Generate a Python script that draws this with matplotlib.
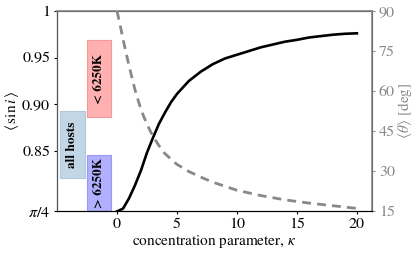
import matplotlib
matplotlib.use("Agg")
import matplotlib.pyplot as plt
import numpy as np

plt.rcParams['font.family'] = ['STIXGeneral', 'DejaVu Serif']
plt.rcParams['mathtext.fontset'] = 'stix'

# <sin i> vs kappa (black solid)
kappa_sin = [0, 0.5, 1.0, 1.5, 2.0, 2.5, 3.0, 3.5, 4.0, 4.5, 5.0, 6.0, 7.0, 8.0,
             9.0, 10.0, 11.0, 12.0, 13.0, 14.0, 15.0, 16.0, 17.0, 18.0, 19.0, 20.0]
sin_vals = [0.785, 0.788, 0.799, 0.813, 0.829, 0.848, 0.864, 0.879, 0.891, 0.902,
            0.911, 0.925, 0.935, 0.943, 0.949, 0.953, 0.957, 0.961, 0.964, 0.967,
            0.969, 0.9715, 0.973, 0.9745, 0.9755, 0.976]

# <theta> vs kappa (grey dashed), degrees
kappa_theta = [0, 0.25, 0.5, 0.75, 1.0, 1.5, 2.0, 2.5, 3.0, 3.5, 4.0, 5.0, 6.0,
               7.0, 8.0, 9.0, 10.0, 12.0, 14.0, 16.0, 18.0, 20.0]
theta_vals = [90, 85, 79.5, 74.5, 69.5, 60.5, 53, 47.5, 43, 39.5, 36.5, 32.5,
              29.8, 27.7, 25.8, 24.3, 22.8, 20.8, 19.2, 18.0, 17.0, 16.0]

# Observed ranges of <sin i> (boxes)
box_labels = ['all hosts', '< 6250K', '> 6250K']
box_x = [(-4.78, -2.70), (-2.49, -0.48), (-2.49, -0.48)]
box_y = [(0.821, 0.8926), (0.886, 0.969), (0.785, 0.8457)]
box_colors = ['#c3d6e6', '#ffb0b0', '#b0b0ff']
box_edges = ['#b0c8dc', '#f59a9a', '#9a9af0']

fig = plt.figure(figsize=(4.16, 2.54), dpi=100)
ax = fig.add_axes([0.137, 0.169, 0.757, 0.788])
ax2 = ax.twinx()

for lab, (x0, x1), (y0, y1), fc, ec in zip(box_labels, box_x, box_y, box_colors, box_edges):
    ax.fill_between([x0, x1], [y0, y0], [y1, y1], facecolor=fc, edgecolor=ec, lw=0.8, zorder=1)
    ax.text((x0 + x1) / 2, (y0 + y1) / 2, lab, rotation=90, ha='center', va='center',
            fontsize=9.5, fontweight='bold', zorder=3)

ax.plot(kappa_sin, sin_vals, color='black', lw=1.9, zorder=4)
ax2.plot(kappa_theta, theta_vals, color='#888888', lw=2.0, ls=(0, (3.2, 2.2)), zorder=4)

ax.set_xlim(-5, 21.25)
ax.set_ylim(np.pi / 4, 1.0)
ax.set_yticks([np.pi / 4, 0.85, 0.90, 0.95, 1.0])
ax.set_yticklabels([r'$\pi/4$', '0.85', '0.90', '0.95', '1'])
ax.set_xticks([0, 5, 10, 15, 20])
ax.tick_params(labelsize=11.5, length=2.5, pad=2.5)
ax.set_xlabel(r'concentration parameter, $\kappa$', fontsize=11, labelpad=1)
ax.set_ylabel(r'$\langle\,\sin i\,\rangle$', fontsize=11, labelpad=1)

ax2.set_ylim(15, 90)
ax2.set_yticks([15, 30, 45, 60, 75, 90])
ax2.tick_params(axis='y', colors='#888888', labelsize=11.5, length=2.5, pad=2.5)
ax2.set_ylabel(r'$\langle\theta\rangle$ [deg]', color='#888888', fontsize=11, labelpad=1)
for s in ['right', 'top']:
    ax2.spines[s].set_color('#888888')
    ax2.spines[s].set_linewidth(1.2)
ax2.spines['left'].set_color('#555555')
ax2.spines['bottom'].set_color('black')

fig.savefig('out.png', dpi=100)
